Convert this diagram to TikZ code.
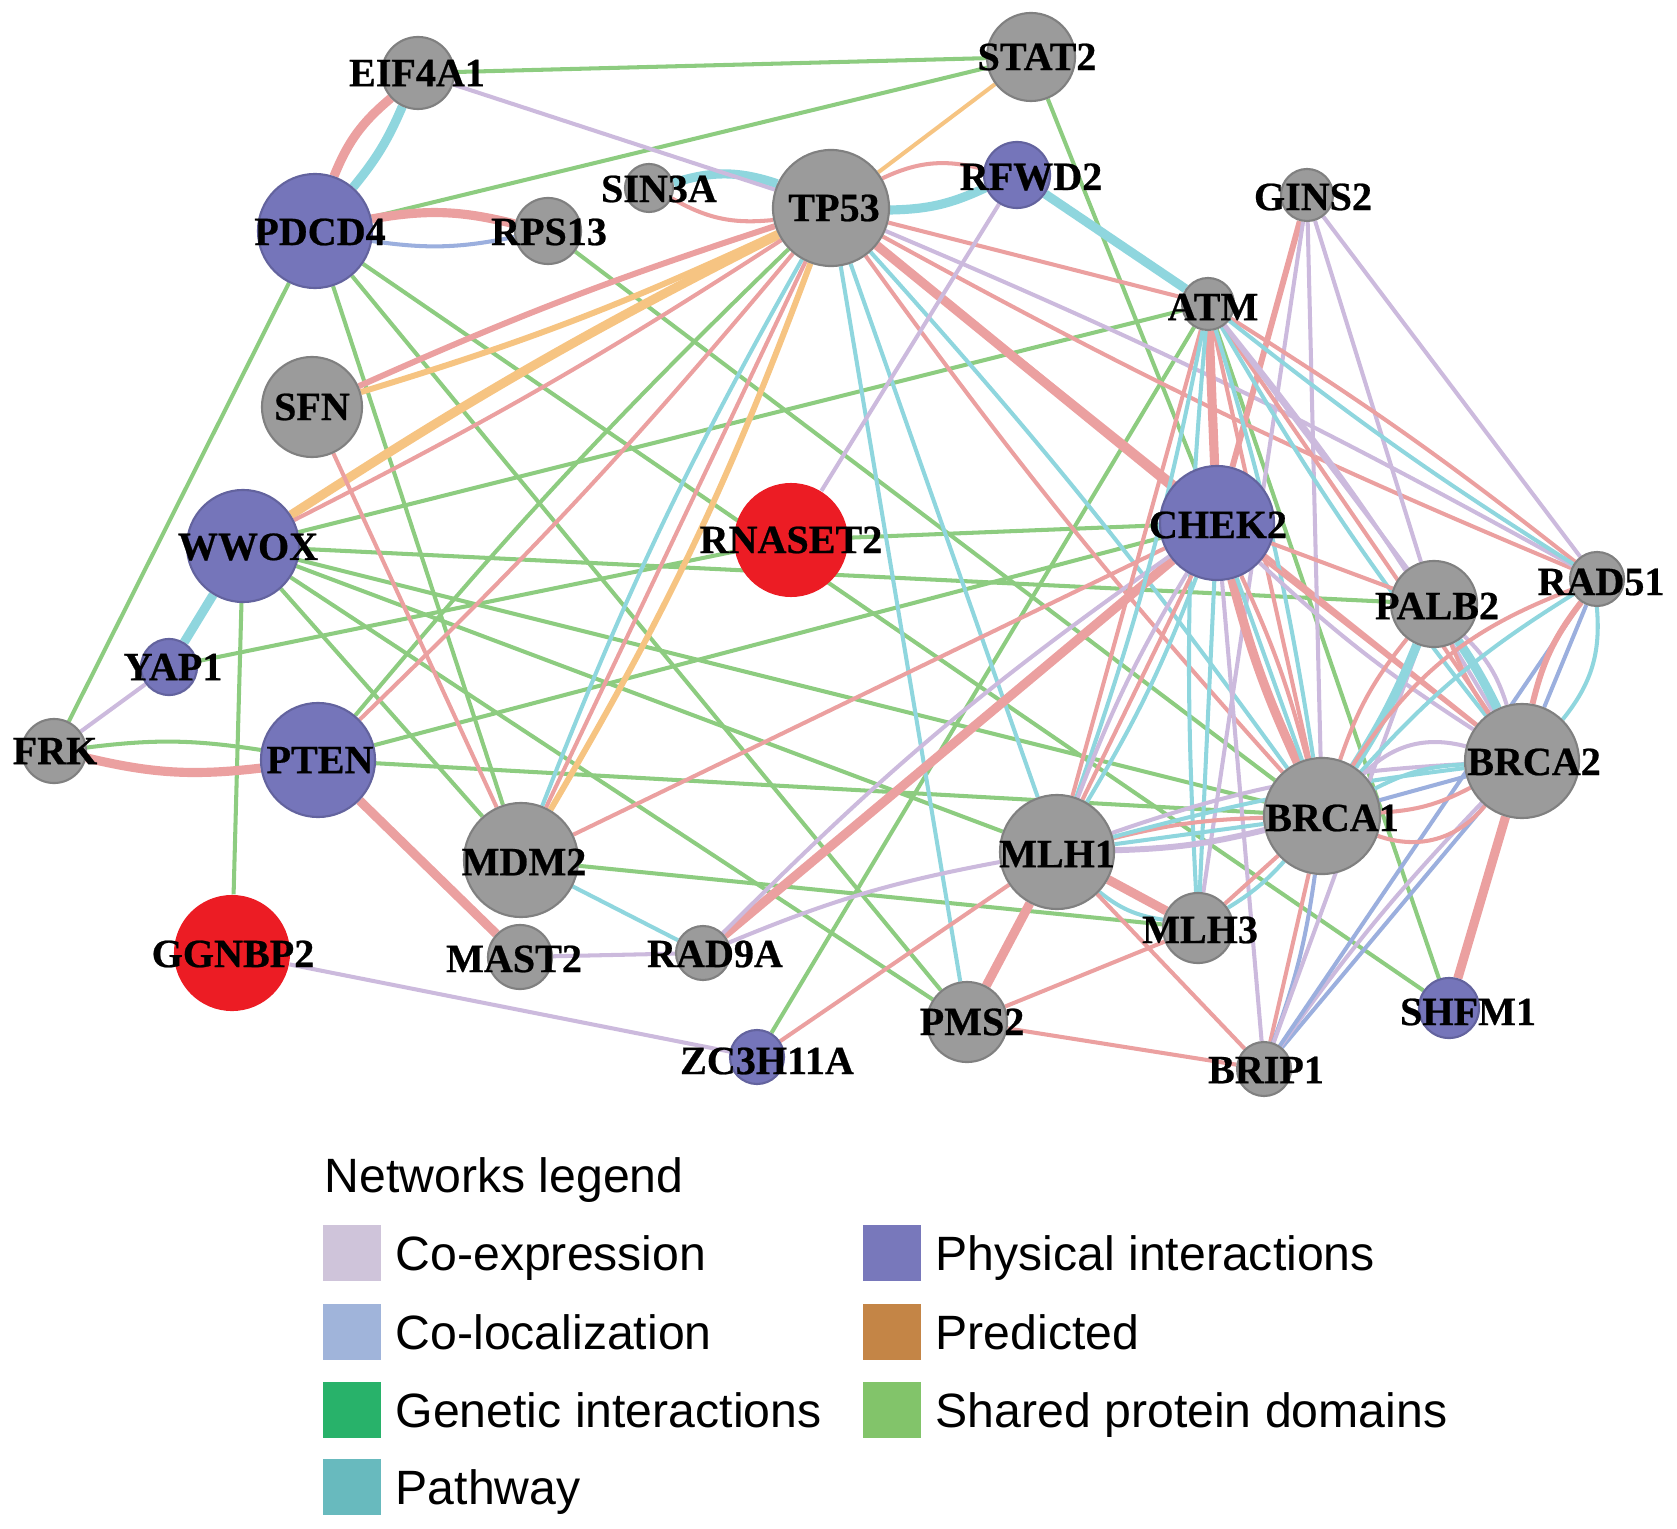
\documentclass[tikz,border=0pt]{standalone}
\usepackage{fontspec}
\setmainfont{Liberation Serif}
\newfontfamily\labfont{Liberation Serif}[BoldFeatures={FakeBold=0.6}]
\newfontfamily\legfont{Liberation Sans}
\pgfdeclarelayer{edges}
\pgfsetlayers{edges,main}
\definecolor{cCE}{RGB}{204,186,221}
\definecolor{cCL}{RGB}{155,175,222}
\definecolor{cPW}{RGB}{143,214,222}
\definecolor{cPH}{RGB}{235,160,160}
\definecolor{cPR}{RGB}{246,196,130}
\definecolor{cSD}{RGB}{141,204,128}
\definecolor{nGray}{RGB}{155,155,155}
\definecolor{nGrayB}{RGB}{128,128,128}
\definecolor{nPur}{RGB}{117,117,186}
\definecolor{nRed}{RGB}{236,28,36}
\definecolor{lCE}{RGB}{207,196,218}
\definecolor{lCL}{RGB}{160,180,218}
\definecolor{lGI}{RGB}{40,178,106}
\definecolor{lPW}{RGB}{104,186,190}
\definecolor{lPH}{RGB}{120,120,187}
\definecolor{lPR}{RGB}{196,133,70}
\definecolor{lSD}{RGB}{130,196,106}
\tikzset{
  gn/.style={circle,fill=nGray,draw=nGrayB,line width=0.6pt,inner sep=0pt},
  pn/.style={circle,fill=nPur,draw=nPur!85!black,line width=0.6pt,inner sep=0pt},
  rn/.style={circle,fill=nRed,draw=none,inner sep=0pt},
  lab/.style={inner sep=0pt,font=\labfont\fontsize{11.4}{12}\selectfont\bfseries},
  ce/.style={draw=cCE,line width=1.15pt},
  cl/.style={draw=cCL,line width=1.15pt},
  pw/.style={draw=cPW,line width=1.15pt},
  ph/.style={draw=cPH,line width=1.15pt},
  pr/.style={draw=cPR,line width=1.15pt},
  sd/.style={draw=cSD,line width=1.15pt},
  med/.style={line width=1.7pt},
  thk/.style={line width=2.6pt},
  sw/.style={draw=none,minimum width=0.58cm,minimum height=0.56cm,inner sep=0pt},
  legt/.style={inner sep=0pt,font=\legfont\fontsize{13.7}{15}\selectfont}
}
\begin{document}
\begin{tikzpicture}[x=0.01cm,y=-0.01cm]
\useasboundingbox (0,0) rectangle (1677,1528);
% nodes
\node[gn,minimum size=0.72cm] (EIF4A1) at (418,73) {};
\node[gn,minimum size=0.88cm] (STAT2) at (1031,57) {};
\node[gn,minimum size=1.16cm] (TP53) at (831,208) {};
\node[pn,minimum size=0.66cm] (RFWD2) at (1017,175) {};
\node[gn,minimum size=0.48cm] (SIN3A) at (649,188) {};
\node[pn,minimum size=1.14cm] (PDCD4) at (315,231) {};
\node[gn,minimum size=0.66cm] (RPS13) at (548,231) {};
\node[gn,minimum size=0.52cm] (GINS2) at (1307,195) {};
\node[gn,minimum size=0.52cm] (ATM) at (1208,304) {};
\node[gn,minimum size=1.0cm] (SFN) at (312,407) {};
\node[pn,minimum size=1.12cm] (WWOX) at (243,546) {};
\node[rn,minimum size=1.14cm] (RNASET2) at (791,540) {};
\node[pn,minimum size=1.14cm] (CHEK2) at (1217,523) {};
\node[gn,minimum size=0.86cm] (PALB2) at (1434,604) {};
\node[gn,minimum size=0.54cm] (RAD51) at (1597,579) {};
\node[pn,minimum size=0.56cm] (YAP1) at (169,667) {};
\node[gn,minimum size=0.64cm] (FRK) at (54,751) {};
\node[pn,minimum size=1.14cm] (PTEN) at (318,760) {};
\node[gn,minimum size=1.14cm] (BRCA2) at (1522,761) {};
\node[gn,minimum size=1.16cm] (BRCA1) at (1322,816) {};
\node[gn,minimum size=1.14cm] (MLH1) at (1057,852) {};
\node[gn,minimum size=1.14cm] (MDM2) at (521,860) {};
\node[rn,minimum size=1.16cm] (GGNBP2) at (232,953) {};
\node[gn,minimum size=0.64cm] (MAST2) at (520,957) {};
\node[gn,minimum size=0.54cm] (RAD9A) at (703,953) {};
\node[gn,minimum size=0.70cm] (MLH3) at (1198,928) {};
\node[gn,minimum size=0.80cm] (PMS2) at (967,1022) {};
\node[pn,minimum size=0.60cm] (SHFM1) at (1449,1008) {};
\node[pn,minimum size=0.54cm] (ZC3H11A) at (757,1057) {};
\node[gn,minimum size=0.54cm] (BRIP1) at (1264,1069) {};
% labels
\node[lab] (lEIF4A1) at (417,73) {EIF4A1};
\node[lab] (lSTAT2) at (1037,57) {STAT2};
\node[lab] (lTP53) at (834,208) {TP53};
\node[lab] (lRFWD2) at (1031,177) {RFWD2};
\node[lab] (lSIN3A) at (659,189) {SIN3A};
\node[lab] (lPDCD4) at (320,232) {PDCD4};
\node[lab] (lRPS13) at (549,232) {RPS13};
\node[lab] (lGINS2) at (1313,197) {GINS2};
\node[lab] (lATM) at (1213,307) {ATM};
\node[lab] (lSFN) at (312,407) {SFN};
\node[lab] (lWWOX) at (248,547) {WWOX};
\node[lab] (lRNASET2) at (791,540) {RNASET2};
\node[lab] (lCHEK2) at (1218,525) {CHEK2};
\node[lab] (lPALB2) at (1437,606) {PALB2};
\node[lab] (lRAD51) at (1601,582) {RAD51};
\node[lab] (lYAP1) at (173,667) {YAP1};
\node[lab] (lFRK) at (55,751) {FRK};
\node[lab] (lPTEN) at (320,760) {PTEN};
\node[lab] (lBRCA2) at (1534,762) {BRCA2};
\node[lab] (lBRCA1) at (1332,818) {BRCA1};
\node[lab] (lMLH1) at (1057,854) {MLH1};
\node[lab] (lMDM2) at (524,862) {MDM2};
\node[lab] (lGGNBP2) at (233,954) {GGNBP2};
\node[lab] (lMAST2) at (514,959) {MAST2};
\node[lab] (lRAD9A) at (715,954) {RAD9A};
\node[lab] (lMLH3) at (1200,930) {MLH3};
\node[lab] (lPMS2) at (972,1022) {PMS2};
\node[lab] (lSHFM1) at (1468,1012) {SHFM1};
\node[lab] (lZC3H11A) at (767,1061) {ZC3H11A};
\node[lab] (lBRIP1) at (1266,1070) {BRIP1};
\begin{pgfonlayer}{edges}
% shared protein domains
\draw[sd] (EIF4A1) -- (STAT2);
\draw[sd] (PDCD4) -- (STAT2);
\draw[sd] (STAT2) -- (CHEK2);
\draw[sd] (PDCD4) -- (FRK);
\draw[sd] (PDCD4) -- (MDM2);
\draw[sd] (PDCD4) -- (PMS2);
\draw[sd] (PDCD4) -- (SHFM1);
\draw[sd] (RPS13) -- (BRCA1);
\draw[sd] (TP53) to[bend right=3] (PTEN);
\draw[sd] (WWOX) -- (GGNBP2);
\draw[sd] (WWOX) -- (ATM);
\draw[sd] (WWOX) -- (PALB2);
\draw[sd] (WWOX) -- (BRCA1);
\draw[sd] (WWOX) -- (MLH1);
\draw[sd] (WWOX) -- (PMS2);
\draw[sd] (WWOX) -- (MDM2);
\draw[sd] (YAP1) -- (RNASET2);
\draw[sd] (FRK) to[bend left=8] (PTEN);
\draw[sd] (PTEN) -- (BRCA1);
\draw[sd] (PTEN) -- (CHEK2);
\draw[sd] (RNASET2) -- (CHEK2);
\draw[sd] (MDM2) -- (MLH3);
\draw[sd] (ATM) -- (ZC3H11A);
\draw[sd] (ATM) -- (SHFM1);
% predicted
\draw[pr] (STAT2) -- (TP53);
\draw[pr,med] (TP53) to[bend left=4] (SFN);
\draw[pr,thk] (WWOX) to[bend left=3] (TP53);
\draw[pr,med] (TP53) to[bend left=5] (MDM2);
% physical / pathway / others around top
\draw[ph,thk] (EIF4A1) to[bend right=14] (PDCD4);
\draw[pw,thk] (EIF4A1) to[bend left=8] (PDCD4);
\draw[ph,thk] (PDCD4) to[bend left=12] (RPS13);
\draw[cl] (PDCD4) to[bend right=10] (RPS13);
\draw[pw,thk] (SIN3A) to[bend left=18] (TP53);
\draw[ph] (SIN3A) to[bend right=18] (TP53);
\draw[ph] (TP53) to[bend left=20] (RFWD2);
\draw[pw,thk] (TP53) to[bend right=12] (RFWD2);
\draw[ph,med] (TP53) to[bend right=3] (SFN);
\draw[ph] (WWOX) to[bend right=3] (TP53);
\draw[ph] (TP53) to[bend left=3] (PTEN);
\draw[ph] (TP53) -- (MDM2);
\draw[pw] (TP53) to[bend right=4] (MDM2);
\draw[ph] (TP53) to[bend right=3] (BRCA1);
\draw[pw] (TP53) to[bend left=3] (BRCA1);
\draw[ph,thk] (TP53) -- (CHEK2);
\draw[ph] (TP53) -- (ATM);
\draw[ph] (TP53) to[bend right=3] (RAD51);
\draw[ce] (TP53) to[bend left=3] (RAD51);
\draw[ph] (TP53) -- (BRCA2);
\draw[pw] (TP53) -- (PMS2);
\draw[pw] (TP53) -- (MLH1);
\draw[ce] (EIF4A1) -- (TP53);
\draw[pw,thk] (RFWD2) -- (ATM);
\draw[ce] (RFWD2) -- (RNASET2);
\draw[ph] (SFN) -- (MDM2);
\draw[ce] (YAP1) -- (FRK);
\draw[pw,thk] (WWOX) -- (YAP1);
\draw[ph,thk] (FRK) to[bend right=10] (PTEN);
\draw[ph,thk] (PTEN) -- (MAST2);
\draw[ce] (MAST2) -- (RAD9A);
\draw[pw] (MDM2) -- (RAD9A);
\draw[ce] (GGNBP2) -- (ZC3H11A);
\draw[ph] (MDM2) -- (CHEK2);
\draw[ph,thk] (RAD9A) -- (CHEK2);
\draw[ce] (RAD9A) to[bend left=5] (CHEK2);
\draw[ce] (RAD9A) to[bend left=6] (MLH1);
% GINS2 / ATM
\draw[ph,med] (GINS2) -- (CHEK2);
\draw[ce] (GINS2) -- (MLH3);
\draw[ce] (GINS2) -- (BRCA1);
\draw[ce] (GINS2) -- (PALB2);
\draw[ce] (GINS2) -- (RAD51);
\draw[ph,thk] (ATM) -- (CHEK2);
\draw[pw] (ATM) to[bend right=4] (MLH3);
\draw[ph] (ATM) -- (MLH1);
\draw[pw] (ATM) to[bend left=4] (MLH1);
\draw[ph] (ATM) -- (BRCA1);
\draw[pw] (ATM) to[bend left=4] (BRCA1);
\draw[ph] (ATM) -- (BRCA2);
\draw[pw] (ATM) to[bend right=4] (BRCA2);
\draw[ce] (ATM) to[bend left=4] (BRCA2);
\draw[ph] (ATM) to[bend left=3] (RAD51);
\draw[pw] (ATM) to[bend right=3] (RAD51);
\draw[ce] (ATM) -- (PALB2);
% CHEK2 cluster
\draw[ph,thk] (CHEK2) to[bend right=5] (BRCA1);
\draw[ph] (CHEK2) to[bend left=5] (BRCA1);
\draw[pw] (CHEK2) -- (BRCA1);
\draw[ph] (CHEK2) -- (BRCA2);
\draw[ce] (CHEK2) to[bend right=5] (BRCA2);
\draw[ph] (CHEK2) -- (PALB2);
\draw[ph] (CHEK2) -- (MLH1);
\draw[pw] (CHEK2) to[bend left=5] (MLH1);
\draw[ce] (CHEK2) to[bend right=5] (MLH1);
\draw[pw] (CHEK2) -- (MLH3);
\draw[ce] (CHEK2) -- (BRIP1);
% MLH1 cluster
\draw[ph] (MLH1) to[bend left=6] (BRCA1);
\draw[pw] (MLH1) -- (BRCA1);
\draw[ce,med] (MLH1) to[bend right=6] (BRCA1);
\draw[ce] (MLH1) to[bend left=8] (BRCA2);
\draw[pw] (MLH1) to[bend left=4] (BRCA2);
\draw[ph,thk] (MLH1) -- (MLH3);
\draw[pw] (MLH1) to[bend right=15] (MLH3);
\draw[ph,thk] (MLH1) -- (PMS2);
\draw[ph] (MLH1) -- (BRIP1);
\draw[ph] (MLH1) -- (ZC3H11A);
\draw[ph] (PMS2) -- (MLH3);
\draw[ph] (PMS2) -- (BRIP1);
\draw[ph] (MLH3) -- (BRCA1);
\draw[pw] (MLH3) to[bend right=8] (BRCA1);
% BRIP1
\draw[ph] (BRIP1) -- (BRCA1);
\draw[cl] (BRIP1) to[bend right=6] (BRCA1);
\draw[cl] (BRIP1) -- (BRCA2);
\draw[ce] (BRIP1) to[bend left=4] (BRCA2);
\draw[cl] (BRIP1) -- (RAD51);
\draw[ce] (BRIP1) -- (PALB2);
% PALB2 / RAD51 / BRCA
\draw[ph] (PALB2) to[bend right=10] (BRCA1);
\draw[pw,thk] (PALB2) to[bend left=5] (BRCA1);
\draw[ph] (PALB2) to[bend right=6] (BRCA2);
\draw[pw,thk] (PALB2) to[bend left=4] (BRCA2);
\draw[ce] (PALB2) to[bend left=14] (BRCA2);
\draw[ph] (RAD51) to[bend right=18] (BRCA1);
\draw[pw] (RAD51) to[bend right=8] (BRCA1);
\draw[ph,med] (RAD51) to[bend right=12] (BRCA2);
\draw[pw] (RAD51) to[bend left=22] (BRCA2);
\draw[cl] (RAD51) -- (BRCA2);
\draw[ce] (BRCA1) to[bend left=30] (BRCA2);
\draw[pw] (BRCA1) to[bend left=12] (BRCA2);
\draw[cl] (BRCA1) -- (BRCA2);
\draw[ph] (BRCA1) to[bend right=12] (BRCA2);
\draw[ph] (BRCA1) to[bend right=35] (BRCA2);
\draw[ph,thk] (SHFM1) -- (BRCA2);
\end{pgfonlayer}
% legend
\node[legt,anchor=base west] (ltitle) at (324,1192) {Networks legend};
\node[sw,fill=lCE] (s1) at (352,1253) {};
\node[sw,fill=lCL] (s2) at (352,1332) {};
\node[sw,fill=lGI] (s3) at (352,1410) {};
\node[sw,fill=lPW] (s4) at (352,1487) {};
\node[sw,fill=lPH] (s5) at (892,1253) {};
\node[sw,fill=lPR] (s6) at (892,1332) {};
\node[sw,fill=lSD] (s7) at (892,1410) {};
\node[legt,anchor=base west] (t1) at (395,1270) {Co-expression};
\node[legt,anchor=base west] (t2) at (395,1349) {Co-localization};
\node[legt,anchor=base west] (t3) at (395,1427) {Genetic interactions};
\node[legt,anchor=base west] (t4) at (395,1504) {Pathway};
\node[legt,anchor=base west] (t5) at (935,1270) {Physical interactions};
\node[legt,anchor=base west] (t6) at (935,1349) {Predicted};
\node[legt,anchor=base west] (t7) at (935,1427) {Shared protein domains};
\end{tikzpicture}
\end{document}
